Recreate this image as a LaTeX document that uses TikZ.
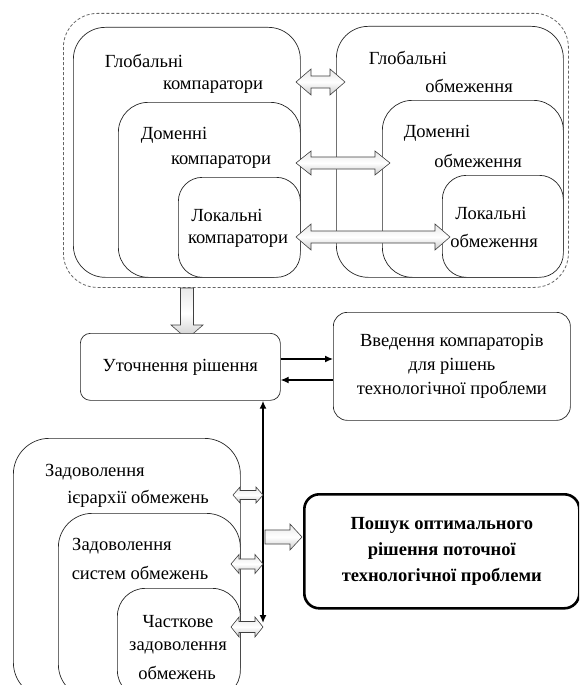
\documentclass[tikz,border=0pt]{standalone}
\usepackage{fontspec}
\setmainfont{Liberation Serif}
\usetikzlibrary{arrows.meta,calc}
\newcommand\dblh[6]{% x1,x2,y,shaft half,head half,head length
  \draw[blockarrow] (#1,#3) -- (#1+#6,#3-#5) -- (#1+#6,#3-#4) -- (#2-#6,#3-#4) -- (#2-#6,#3-#5) -- (#2,#3)
    -- (#2-#6,#3+#5) -- (#2-#6,#3+#4) -- (#1+#6,#3+#4) -- (#1+#6,#3+#5) -- cycle;}
\begin{document}
\begin{tikzpicture}[x=1pt,y=-1pt,
  rbox/.style={draw=black!85, line width=0.7pt, rounded corners=#1, fill=white, inner sep=0pt, anchor=north west},
  rbox/.default=30pt,
  dashbox/.style={draw=black!60, line width=0.8pt, dash pattern=on 3pt off 2pt, rounded corners=34pt, inner sep=0pt, anchor=north west},
  lbl/.style={font=\fontsize{18.5}{24}\selectfont, inner sep=0pt},
  blockarrow/.style={draw=black!75, line width=0.6pt, top color=gray!18, bottom color=gray!40, middle color=white},
  conn/.style={line width=1.2pt, -{Latex[length=8pt,width=7pt]}}
]
\clip (0,0) rectangle (579,685);
\fill[white] (0,0) rectangle (579,685);
% top dashed group
\node[dashbox, minimum width=505pt, minimum height=274pt] (dash) at (63,13) {};
\node[rbox=32pt, minimum width=227pt, minimum height=250pt] (gc) at (73,27) {};
\node[rbox=30pt, minimum width=182pt, minimum height=175pt] (dc) at (118,102) {};
\node[rbox=24pt, minimum width=122pt, minimum height=100pt] (lc) at (178,177) {};
\node[rbox=32pt, minimum width=227pt, minimum height=251pt] (go) at (336,26) {};
\node[rbox=30pt, minimum width=181pt, minimum height=177pt] (do) at (382,100) {};
\node[rbox=24pt, minimum width=121pt, minimum height=102pt] (lo) at (442,175) {};
% labels
\node[lbl] (gc1) at (144,61) {Глобальні};
\node[lbl] (gc2) at (213,87) {компаратори};
\node[lbl] (dc1) at (174,135) {Доменні};
\node[lbl] (dc2) at (221,162) {компаратори};
\node[lbl] (lc1) at (227,215) {Локальні};
\node[lbl] (lc2) at (238,241) {компаратори};
\node[lbl] (go1) at (408,58) {Глобальні};
\node[lbl] (go2) at (469,86) {обмеження};
\node[lbl] (do1) at (437,133) {Доменні};
\node[lbl] (do2) at (478,161) {обмеження};
\node[lbl] (lo1) at (491,213) {Локальні};
\node[lbl] (lo2) at (494,241) {обмеження};
% double block arrows
\dblh{296}{345}{82}{6}{13}{15}
\dblh{296}{390}{163}{6}{12}{15}
\dblh{296}{450}{237}{6}{13}{15}
% down block arrow
\draw[blockarrow] (180.5,288) -- (193.5,288) -- (193.5,325) -- (203,325) -- (187,339) -- (171,325) -- (180.5,325) -- cycle;
% middle row
\node[rbox=10pt, minimum width=200pt, minimum height=67pt, lbl, anchor=north west] (u) at (80,333) {Уточнення рішення};
\node[rbox=14pt, minimum width=237pt, minimum height=108pt, lbl, align=center, anchor=north west] (v) at (333,312)
  {Введення компараторів\\для рішень\\технологічної проблеми};
\coordinate (ya) at (0,359);
\coordinate (yb) at (0,380);
\draw[conn] (u.east |- ya) -- (v.west |- ya);
\draw[conn] (v.west |- yb) -- (u.east |- yb);
% vertical bus
\coordinate (vx) at (263,0);
\coordinate (vbot) at (263,623);
\draw[line width=1.6pt, {Latex[length=8pt,width=7pt]}-{Latex[length=8pt,width=7pt]}] (u.south -| vx) -- (vbot);
% bottom nested boxes
\node[rbox=36pt, minimum width=227pt, minimum height=260pt] (zs) at (13,438) {};
\node[rbox=34pt, minimum width=182pt, minimum height=185pt] (ss) at (58,513) {};
\node[rbox=28pt, minimum width=123pt, minimum height=110pt] (cz) at (117,588) {};
\node[lbl] (zs1) at (95,472) {Задоволення};
\node[lbl] (zs2) at (138,499) {ієрархії обмежень};
\node[lbl] (ss1) at (122,546) {Задоволення};
\node[lbl] (ss2) at (140,573) {систем обмежень};
\node[lbl] (cz1) at (178,622) {Часткове};
\node[lbl] (cz2) at (178,648) {задоволення};
\node[lbl] (cz3) at (177,673) {обмежень};
% small double arrows to bus
\dblh{233}{263}{495}{4.5}{8}{7}
\dblh{231}{263}{564}{5}{9.5}{8}
\dblh{231}{263}{627}{5.5}{10}{8}
% search box
\node[draw, line width=2.6pt, rounded corners=15pt, fill=white, minimum width=275pt, minimum height=114pt, inner sep=0pt,
  font=\fontsize{18.5}{26}\selectfont\bfseries, align=center, anchor=north west] (p) at (303,493)
  {Пошук оптимального\\рішення поточної\\технологічної проблеми};
% right block arrow
\draw[blockarrow] (265,530) -- (290,530) -- (290,524) -- (302,537) -- (290,550) -- (290,544) -- (265,544) -- cycle;
\end{tikzpicture}
\end{document}
